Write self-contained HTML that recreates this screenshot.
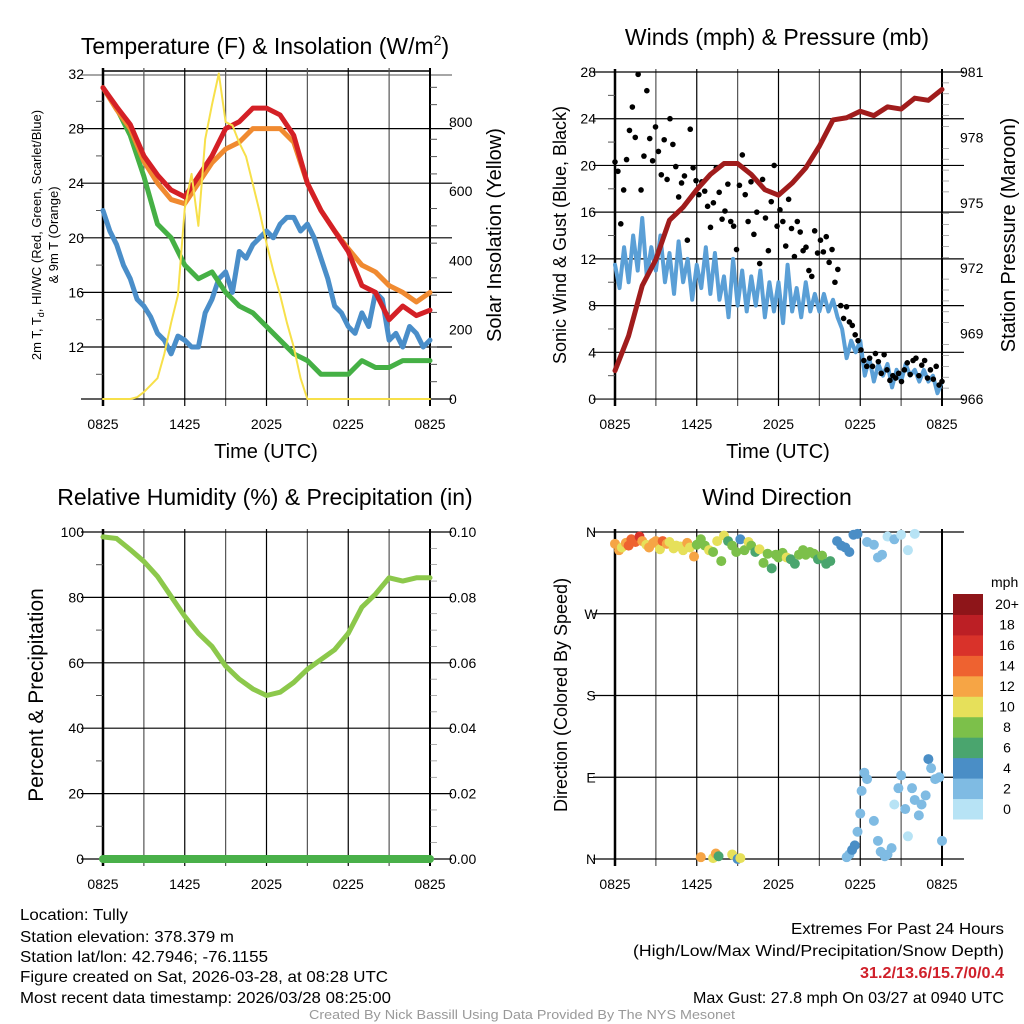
<!DOCTYPE html>
<html><head><meta charset="utf-8"><style>
html,body{margin:0;padding:0;background:#fff;}
svg{display:block;font-family:"Liberation Sans",sans-serif;}
</style></head><body>
<svg id="fig" width="1024" height="1024" viewBox="0 0 1024 1024">
<g id="p1"></g>
<g id="p2"></g>
<g id="p3"></g>
<g id="p4"></g>
<g id="txt">
<text x="265" y="54" font-size="23" text-anchor="middle">Temperature (F) &amp; Insolation (W/m<tspan dy="-9" font-size="14">2</tspan><tspan dy="9">)</tspan></text>
<text x="777" y="45" font-size="23" text-anchor="middle">Winds (mph) &amp; Pressure (mb)</text>
<text x="265" y="505" font-size="23" text-anchor="middle">Relative Humidity (%) &amp; Precipitation (in)</text>
<text x="777" y="505" font-size="23" text-anchor="middle">Wind Direction</text>
<text x="266" y="458" font-size="20" text-anchor="middle">Time (UTC)</text>
<text x="778" y="458" font-size="20" text-anchor="middle">Time (UTC)</text>
<text transform="translate(41,235) rotate(-90)" font-size="13" text-anchor="middle">2m T, T<tspan dy="3" font-size="9">d</tspan><tspan dy="-3">, HI/WC (Red, Green, Scarlet/Blue)</tspan></text>
<text transform="translate(58,235) rotate(-90)" font-size="13" text-anchor="middle">&amp; 9m T (Orange)</text>
<text transform="translate(501,235) rotate(-90)" font-size="20" text-anchor="middle">Solar Insolation (Yellow)</text>
<text transform="translate(566,235) rotate(-90)" font-size="18" text-anchor="middle">Sonic Wind &amp; Gust (Blue, Black)</text>
<text transform="translate(1015,235) rotate(-90)" font-size="20" text-anchor="middle">Station Pressure (Maroon)</text>
<text transform="translate(43,695) rotate(-90)" font-size="21" text-anchor="middle">Percent &amp; Precipitation</text>
<text transform="translate(567,695) rotate(-90)" font-size="18" text-anchor="middle">Direction (Colored By Speed)</text>
<g font-size="16">
<text x="20" y="920" textLength="108" lengthAdjust="spacingAndGlyphs">Location: Tully</text>
<text x="20" y="942" textLength="214" lengthAdjust="spacingAndGlyphs">Station elevation: 378.379 m</text>
<text x="20" y="962" textLength="248" lengthAdjust="spacingAndGlyphs">Station lat/lon: 42.7946; -76.1155</text>
<text x="20" y="982" textLength="368" lengthAdjust="spacingAndGlyphs">Figure created on Sat, 2026-03-28, at 08:28 UTC</text>
<text x="20" y="1003" textLength="371" lengthAdjust="spacingAndGlyphs">Most recent data timestamp: 2026/03/28 08:25:00</text>
</g>
<g font-size="16">
<text x="791" y="934" textLength="213" lengthAdjust="spacingAndGlyphs">Extremes For Past 24 Hours</text>
<text x="633" y="956" textLength="371" lengthAdjust="spacingAndGlyphs">(High/Low/Max Wind/Precipitation/Snow Depth)</text>
<text x="860" y="978" textLength="144" lengthAdjust="spacingAndGlyphs" font-weight="bold" fill="#d0202a">31.2/13.6/15.7/0/0.4</text>
<text x="693" y="1003" textLength="311" lengthAdjust="spacingAndGlyphs">Max Gust: 27.8 mph On 03/27 at 0940 UTC</text>
</g>
<text x="309" y="1019" font-size="13" textLength="426" lengthAdjust="spacingAndGlyphs" fill="#999">Created By Nick Bassill Using Data Provided By The NYS Mesonet</text>
</g>
</svg>
<script>
// ---- data (0 = 0825 UTC, evenly spaced over 24 h) ----
const xTickLabels = ["0825","1425","2025","0225","0825"];
const tempRed = [31,29.6,28.3,26,24.6,23.5,23,24.5,26,28,28.5,29.5,29.5,29,27.5,24,22,20.5,19,16.5,16,14,15,14.3,14.7];
const tempOrange = [31,29.4,28,25.6,24,22.8,22.5,24,25.5,26.5,27,28,28,28,27,24,22,20.5,19.2,18,17.5,16.5,16,15.3,16];
const tempGreen = [31,29.5,27.5,24.5,21,20,18,17,17.5,16,15,14.5,13.5,12.5,11.5,11,10,10,10,11,10.5,10.5,11,11,11];
const tempBlue = [22,20.5,19.5,18,17,15.5,15,14.2,13,12.5,11.5,12.8,12.5,12,12,14.5,15.5,17,17.5,16,19,18.5,19.5,20,20.5,20,21,21.5,21.5,20.5,21,20,18.5,17,15,14.5,13.5,13,14.5,13.5,16,15.5,12.5,13,12,13.5,13,12,12.5];
const insolation = [0,0,0,0,0,5,20,40,60,130,220,300,550,650,500,750,850,940,800,790,740,700,620,540,450,370,300,220,150,60,0,0,0,0,0,0,0,0,0,0,0,0,0,0,0,0,0,0,0];
const windBlue = [11.5,9.5,13,10,14,11,15.5,10.5,13,11,14,10,
 12.5,9,13.5,10,12,8.5,11.5,9.5,13,9,12.5,8.5,
 10.5,7,12,8,11,7.5,10.5,8,11,7,10,7.5,
 10,6.5,11.5,7.5,9.5,7,10,7.5,9,7.5,9,7.5,
 8.5,7,6,3.5,5,4,5,2,3.5,1.5,3,2,
 3,1,2.5,1.5,3,2,2.5,1.5,2.5,1.5,2,0.5,1.5];
const gusts = [20.3,19.5,15,17.9,20.5,23,25,22.4,27.8,17.9,20.8,26.4,22.3,20.4,23.3,21.2,19.2,22.2,18.8,24,21.8,19.9,17.3,18.5,19.1,13.6,23.1,19.8,18.7,17.5,18.6,17.8,16.5,14.7,16.8,19.8,17.7,15.4,16.1,18.4,15.2,14.8,12.8,18.3,20.9,17.5,15.2,18.6,14.1,16,11.6,18.8,15.5,12.7,16.9,20,14.8,16.2,15.2,13.1,17.1,14.6,12.2,15.2,14.3,12.7,13,11,10.5,14.4,12.5,13.6,12.6,13.9,11.7,12.8,10,11.1,8,6.9,7.9,6.6,6.3,5.5,5,4.2,3.3,2.8,3.5,2.8,3.9,3.2,2.2,3.8,2.5,1.6,2,1.8,2.2,1.5,2.5,3.1,2.1,3.3,3.5,2,2.9,3.3,1.8,2.5,1.7,2.8,1.2,1.5];
const pressure = [967.3,968.9,971.2,972.4,974.2,974.8,975.6,976.3,976.8,976.8,976.3,975.6,975.35,975.9,976.6,977.6,978.8,978.9,979.2,979.0,979.4,979.3,979.8,979.7,980.2];
const rh = [98.5,98,94.6,91,86.4,80.3,74.2,69,65,59,55,52,50,51,54,58,61,64,69,77,81,86,85,86,86];
const precip = [0,0,0,0,0,0,0,0,0,0,0,0,0,0,0,0,0,0,0,0,0,0,0,0,0];
const dirTimes = [0,0.3,0.5,0.8,1,1.2,1.5,1.8,2,2.3,2.5,2.8,3,3.3,3.5,3.8,4,4.3,4.5,4.8,5,5.3,5.5,5.8,6,
 6.3,6.6,6.9,7.2,7.5,7.8,8,8.3,8.6,8.9,9.2,9.5,9.8,10,10.3,10.6,10.9,11.2,11.5,11.8,12,12.3,12.6,12.9,13.2,13.5,13.8,14,14.3,14.6,14.9,15.2,15.5,15.8,
 16.3,16.6,16.9,17.2,17.5,17.8, 18.5,19,19.3,19.6,20,20.5,21,21.5,22,
 6.3,7.2,7.4,7.6,8.6,9.0,9.2,
 17,17.2,17.4,17.6,17.8,18,18.1,18.3,18.5,19,19.3,19.5,19.8,20,20.3,20.5,20.8,21,21.3,21.5,21.8,22,22.3,22.5,22.8,23,23.2,23.5,23.8,24];
const dirDeg = [347,340,343,348,345,352,349,355,350,346,343,348,350,341,350,347,349,342,345,344,340,348,343,333,346,
 352,345,340,338,350,328,356,350,345,338,352,340,349,345,338,341,326,336,320,335,332,337,332,330,325,335,340,335,338,336,330,334,325,328,
 350,345,343,338,357,358, 349,346,332,335,355,352,357,340,358,
 2,1,6,3,5,0,1,
 2,5,10,15,30,50,75,95,88,42,20,8,3,5,12,60,78,92,55,25,78,65,48,60,70,110,100,88,90,20];
const dirSpeed = [12,12,11,13,14,15,14,16,12,11,13,12,13,11,14,12,10,11,11,10,10,12,10,12,9,
 8,9,10,9,10,8,10,7,8,9,5,8,10,8,7,10,8,9,6,8,9,8,10,7,6,9,8,8,9,8,7,8,6,7,
 4,4,4,4,4,4, 2,2,2,2,1,2,1,0,1,
 12,10,12,6,10,5,10,
 2,3,4,4,3,2,3,3,3,3,2,2,2,3,2,1,3,3,2,1,3,3,3,3,2,4,3,2,2,2];
const speedBins = ["0","2","4","6","8","10","12","14","16","18","20+"];
const tempTicks = [12,16,20,24,28,32];
const solarTicks = [0,200,400,600,800];
const windTicks = [0,4,8,12,16,20,24,28];
const pressTicks = [966,969,972,975,978,981];
const rhTicks = [0,20,40,60,80,100];
const precipTicks = ["0.00","0.02","0.04","0.06","0.08","0.10"];
const dirTicks = ["N","E","S","W","N"];

const binColors = ["#b7e3f5","#7fbbe3","#4a8ec6","#4aa56e","#7cc04a","#e6e05a","#f6a545","#ee6230","#d9322a","#bc1f25","#8e1519"];
const NS = "http://www.w3.org/2000/svg";
function mk(parent, tag, attrs){const e=document.createElementNS(NS,tag);for(const k in attrs)e.setAttribute(k,attrs[k]);parent.appendChild(e);return e;}
function X(x0,t){return x0+t*327/24;}
function series(arr){return arr.map((v,i)=>[i*24/(arr.length-1),v]);}

function frame(g,x0,yTop,yBot,hLines){
  for(let i=0;i<=8;i++){
    const x=X(x0,i*3);
    const l=mk(g,"line",{x1:x,x2:x,y1:yTop-3,y2:yBot+7,stroke:(i%2?"#555":"#000"),"stroke-width":i==0?2.5:(i==8?2:1.2)});
    
    
  }
  hLines.forEach(y=>{
    const l=mk(g,"line",{x1:x0-22,x2:x0+327+22,y1:y,y2:y,stroke:"#000","stroke-width":1.2});
    
    
  });
  xTickLabels.forEach((s,i)=>{
    const t=mk(g,"text",{x:X(x0,i*6),y:yBot+30,"font-size":14,"text-anchor":"middle"});
    t.textContent=s;
    
    
  });
}
function poly(g,pts,color,w,name){
  const p=mk(g,"polyline",{points:pts.map(p=>p.join(",")).join(" "),fill:"none",stroke:color,"stroke-width":w,"stroke-linejoin":"round","stroke-linecap":"round"});
  
  
}
function label(g,x,y,s,anchor,name){
  const t=mk(g,"text",{x:x,y:y+5,"font-size":14,"text-anchor":anchor});
  t.textContent=s;
  
  
}

// Panel 1
(function(){
  const g=document.getElementById("p1"), x0=103;
  const Yt=v=>74+(32-v)*13.65, Yi=w=>399-w*0.3463;
  mk(g,"line",{x1:x0,x2:430,y1:71,y2:71,stroke:"#000","stroke-width":1.5});
  mk(g,"line",{x1:x0-22,x2:452,y1:75,y2:75,stroke:"#888","stroke-width":1.5});
  frame(g,x0,71,399,tempTicks.filter(v=>v<32).map(Yt).concat([399]));
  tempTicks.forEach(v=>label(g,84,Yt(v),String(v),"end","y-tick-label-temp"));
  solarTicks.forEach(v=>label(g,449,Yi(v),String(v),"start","y-tick-label-solar"));
  for(let w=50;w<950;w+=50){ if(w%200) mk(g,"line",{x1:430,x2:437,y1:Yi(w),y2:Yi(w),stroke:"#555"}); }
  for(let v=10;v<32;v+=4) mk(g,"line",{x1:96,x2:103,y1:Yt(v),y2:Yt(v),stroke:"#555"});
  poly(g,series(tempBlue).map(p=>[X(x0,p[0]),Yt(p[1])]),"#4a8ec9",5,"hi-wc-line");
  poly(g,series(tempGreen).map(p=>[X(x0,p[0]),Yt(p[1])]),"#45b045",5,"dewpoint-line");
  poly(g,series(tempOrange).map(p=>[X(x0,p[0]),Yt(p[1])]),"#f08a30",5,"temp-9m-line");
  poly(g,series(tempRed).map(p=>[X(x0,p[0]),Yt(p[1])]),"#d42026",5,"temp-2m-line");
  poly(g,series(insolation).map(p=>[X(x0,p[0]),Yi(p[1])]),"#f7e04a",2,"insolation-line");
})();

// Panel 2
(function(){
  const g=document.getElementById("p2"), x0=615;
  const Yw=v=>72+(28-v)*11.68, Yp=p=>72+(981-p)*21.8;
  frame(g,x0,72,399,windTicks.map(Yw));
  windTicks.forEach(v=>label(g,596,Yw(v),String(v),"end","y-tick-label-wind"));
  pressTicks.forEach(v=>label(g,960,Yp(v),String(v),"start","y-tick-label-pressure"));
  for(let v=2;v<28;v+=4) mk(g,"line",{x1:608,x2:615,y1:Yw(v),y2:Yw(v),stroke:"#555"});
  for(let p=966.5;p<981;p+=0.5){ if(Math.abs(p-Math.round(p/3)*3)>0.01) mk(g,"line",{x1:942,x2:949,y1:Yp(p),y2:Yp(p),stroke:"#777","stroke-width":0.6}); }
  poly(g,series(windBlue).map(p=>[X(x0,p[0]),Yw(p[1])]),"#5a9fd6",4,"sonic-wind-line");
  series(gusts).forEach(p=>{
    const c=mk(g,"circle",{cx:X(x0,p[0]),cy:Yw(p[1]),r:2.8,fill:"#000"});
    
    
  });
  poly(g,series(pressure).map(p=>[X(x0,p[0]),Yp(p[1])]),"#a01c1c",5,"pressure-line");
})();

// Panel 3
(function(){
  const g=document.getElementById("p3"), x0=103;
  const Yr=v=>532+(100-v)*3.27;
  frame(g,x0,532,859,rhTicks.map(Yr));
  rhTicks.forEach(v=>label(g,84,Yr(v),String(v),"end","y-tick-label-rh"));
  precipTicks.forEach((s,i)=>label(g,449,Yr(i*20),s,"start","y-tick-label-precip"));
  for(let v=10;v<100;v+=20) mk(g,"line",{x1:96,x2:103,y1:Yr(v),y2:Yr(v),stroke:"#555"});
  for(let v=5;v<100;v+=5){ if(v%20) mk(g,"line",{x1:430,x2:437,y1:Yr(v),y2:Yr(v),stroke:"#777","stroke-width":0.6}); }
  poly(g,series(rh).map(p=>[X(x0,p[0]),Yr(p[1])]),"#8cc84b",5,"rh-line");
  poly(g,series(precip).map(p=>[X(x0,p[0]),Yr(p[1]*1000)]),"#49b049",8,"precip-line");
})();

// Panel 4
(function(){
  const g=document.getElementById("p4"), x0=615;
  const Yd=d=>859-d*0.9083;
  frame(g,x0,532,859,[0,90,180,270,360].map(Yd));
  dirTicks.forEach((s,i)=>label(g,591,Yd(i*90),s,"middle","y-tick-label-direction"));
  dirTimes.forEach((t,i)=>{
    const b=Math.min(10,Math.floor(dirSpeed[i]/2));
    const c=mk(g,"circle",{cx:X(x0,t),cy:Yd(dirDeg[i]),r:5,fill:binColors[b]});
    
    
  });
  const lg=mk(g,"g",{});
  
  
  const cy0=594, h=225/11;
  speedBins.forEach((s,i)=>{
    const y=cy0+(10-i)*h;
    const r=mk(lg,"rect",{x:953,y:y,width:30,height:h+0.5,fill:binColors[i]});
    
    
    const t=mk(lg,"text",{x:1007,y:y+h/2+5,"font-size":14,"text-anchor":"middle"});
    t.textContent=s;
    
    
  });
  const u=mk(lg,"text",{x:991,y:587,"font-size":14});
  u.textContent="mph";
  
  
})();
</script>
</body></html>
